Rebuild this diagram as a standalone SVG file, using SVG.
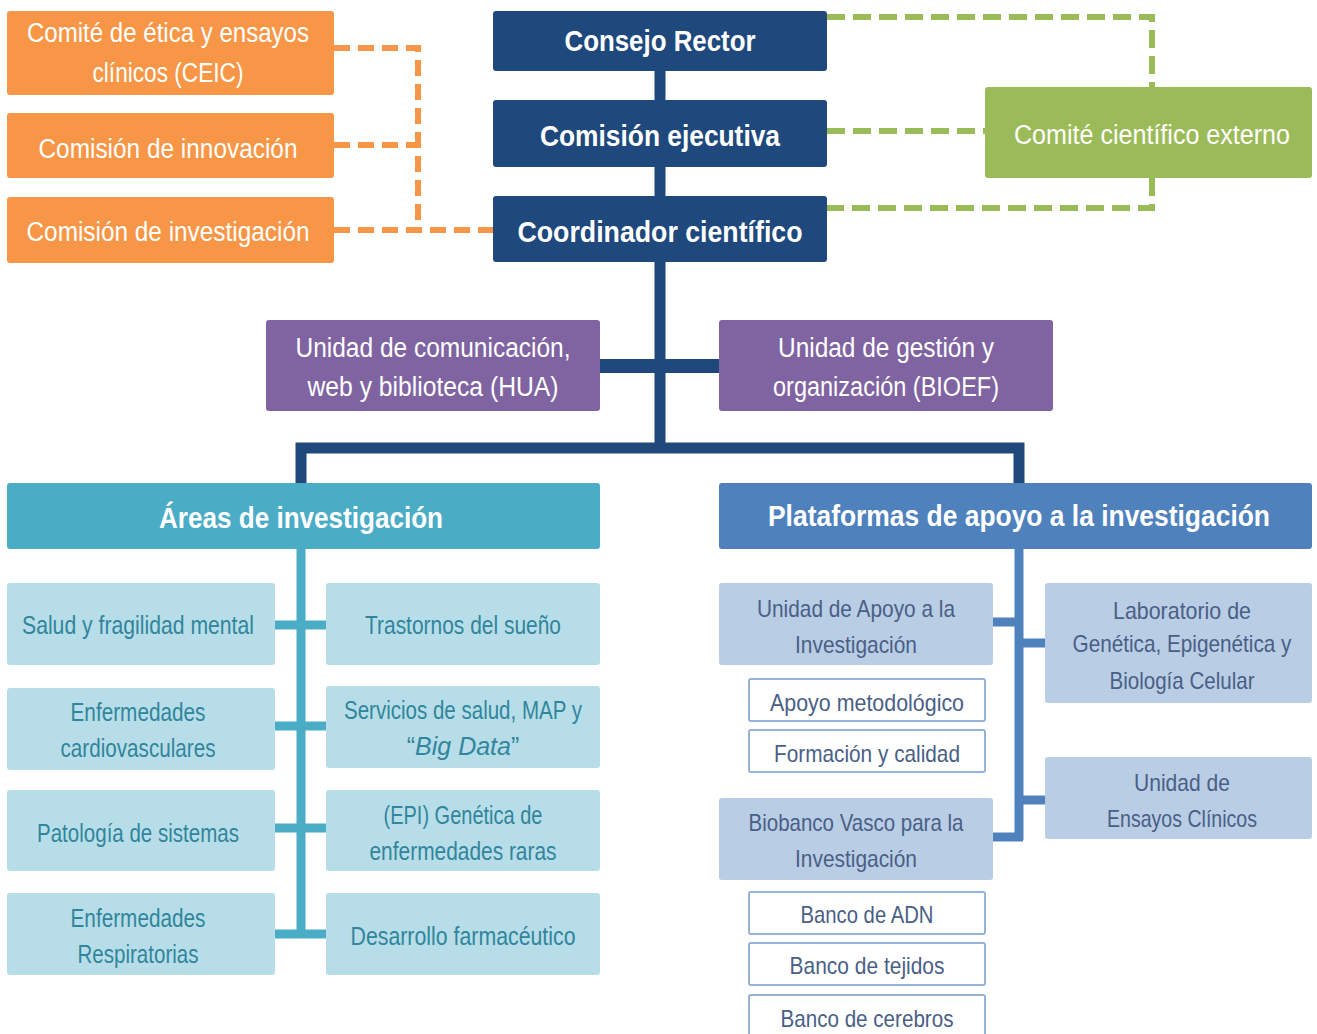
<svg xmlns="http://www.w3.org/2000/svg" width="1317" height="1034" viewBox="0 0 1317 1034">
<style>
text{font-family:"Liberation Sans",Arial,sans-serif;text-anchor:middle}
.t{font-size:30px;font-weight:bold;fill:#fff}
.w{font-size:27px;fill:#fff}
.a{font-size:25px;fill:#31859C}
.p{font-size:24px;fill:#4A5F86}
.or{fill:#F79646}
.db{fill:#1F497D}
.gr{fill:#9BBB59}
.pu{fill:#8064A2}
.ah{fill:#4BACC6}
.ph{fill:#4F81BD}
.ab{fill:#B7DEE8}
.pb{fill:#B9CDE5}
.wb{fill:#fff;stroke:#95B3D7;stroke-width:2}
.dor{fill:none;stroke:#F79646;stroke-width:6;stroke-dasharray:16 8}
.dgr{fill:none;stroke:#9BBB59;stroke-width:6;stroke-dasharray:18 8}
</style>
<rect width="1317" height="1034" fill="#fff"/>
<g id="connectors">
<path class="dor" d="M334,48 H418 V230 M334,145 H418 M334,230 H493"/>
<path class="dgr" d="M827,17 H1152 V87 M1152,178 V208 H827 M827,131 H985"/>
<path d="M660,71 V448" stroke="#1F497D" stroke-width="11" fill="none"/>
<path d="M600,366 H719" stroke="#1F497D" stroke-width="14" fill="none"/>
<path d="M301,485 V448 H1019 V485" stroke="#1F497D" stroke-width="11" fill="none"/>
<path d="M301,549 V935 M275,625 H326 M275,726 H326 M275,828 H326 M275,934 H326" stroke="#4BACC6" stroke-width="9" fill="none"/>
<path d="M1019,549 V840 M993,622 H1019 M993,837 H1023 M1019,643 H1045 M1019,800 H1045" stroke="#4F81BD" stroke-width="9" fill="none"/>
</g>
<g id="ceic"><rect class="or" x="7" y="11" width="327" height="84" rx="3"/><text class="w" x="168" y="42" textLength="282" lengthAdjust="spacingAndGlyphs">Comité de ética y ensayos</text><text class="w" x="168" y="82" textLength="151" lengthAdjust="spacingAndGlyphs">clínicos (CEIC)</text></g>
<g id="innovacion"><rect class="or" x="7" y="113" width="327" height="65" rx="3"/><text class="w" x="168" y="158" textLength="259" lengthAdjust="spacingAndGlyphs">Comisión de innovación</text></g>
<g id="investigacion"><rect class="or" x="7" y="197" width="327" height="66" rx="3"/><text class="w" x="168" y="241" textLength="283" lengthAdjust="spacingAndGlyphs">Comisión de investigación</text></g>
<g id="consejo"><rect class="db" x="493" y="11" width="334" height="60" rx="3"/><text class="t" x="660" y="51" textLength="191" lengthAdjust="spacingAndGlyphs">Consejo Rector</text></g>
<g id="ejecutiva"><rect class="db" x="493" y="100" width="334" height="67" rx="3"/><text class="t" x="660" y="146" textLength="240" lengthAdjust="spacingAndGlyphs">Comisión ejecutiva</text></g>
<g id="coordinador"><rect class="db" x="493" y="196" width="334" height="66" rx="3"/><text class="t" x="660" y="242" textLength="285" lengthAdjust="spacingAndGlyphs">Coordinador científico</text></g>
<g id="externo"><rect class="gr" x="985" y="87" width="327" height="91" rx="3"/><text class="w" x="1152" y="144" textLength="276" lengthAdjust="spacingAndGlyphs">Comité científico externo</text></g>
<g id="comunicacion"><rect class="pu" x="266" y="320" width="334" height="91" rx="3"/><text class="w" x="433" y="357" textLength="275" lengthAdjust="spacingAndGlyphs">Unidad de comunicación,</text><text class="w" x="433" y="396" textLength="251" lengthAdjust="spacingAndGlyphs">web y biblioteca (HUA)</text></g>
<g id="gestion"><rect class="pu" x="719" y="320" width="334" height="91" rx="3"/><text class="w" x="886" y="357" textLength="216" lengthAdjust="spacingAndGlyphs">Unidad de gestión y</text><text class="w" x="886" y="396" textLength="226" lengthAdjust="spacingAndGlyphs">organización (BIOEF)</text></g>
<g id="areas"><rect class="ah" x="7" y="483" width="593" height="66" rx="3"/><text class="t" x="301" y="528" textLength="284" lengthAdjust="spacingAndGlyphs">Áreas de investigación</text></g>
<g id="plataformas"><rect class="ph" x="719" y="483" width="593" height="66" rx="3"/><text class="t" x="1019" y="526" font-size="25" textLength="502" lengthAdjust="spacingAndGlyphs">Plataformas de apoyo a la investigación</text></g>
<g id="salud"><rect class="ab" x="7" y="583" width="268" height="82" rx="3"/><text class="a" x="138" y="634" textLength="232" lengthAdjust="spacingAndGlyphs">Salud y fragilidad mental</text></g>
<g id="sueno"><rect class="ab" x="326" y="583" width="274" height="82" rx="3"/><text class="a" x="463" y="634" textLength="196" lengthAdjust="spacingAndGlyphs">Trastornos del sueño</text></g>
<g id="cardio"><rect class="ab" x="7" y="688" width="268" height="82" rx="3"/><text class="a" x="138" y="721" textLength="135" lengthAdjust="spacingAndGlyphs">Enfermedades</text><text class="a" x="138" y="757" textLength="155" lengthAdjust="spacingAndGlyphs">cardiovasculares</text></g>
<g id="servicios"><rect class="ab" x="326" y="686" width="274" height="82" rx="3"/><text class="a" x="463" y="719" textLength="238" lengthAdjust="spacingAndGlyphs">Servicios de salud, MAP y</text><text class="a" x="463" y="755">“<tspan font-style="italic">Big Data</tspan>”</text></g>
<g id="patologia"><rect class="ab" x="7" y="790" width="268" height="81" rx="3"/><text class="a" x="138" y="842" textLength="202" lengthAdjust="spacingAndGlyphs">Patología de sistemas</text></g>
<g id="epi"><rect class="ab" x="326" y="790" width="274" height="81" rx="3"/><text class="a" x="463" y="824" textLength="159" lengthAdjust="spacingAndGlyphs">(EPI) Genética de</text><text class="a" x="463" y="860" textLength="187" lengthAdjust="spacingAndGlyphs">enfermedades raras</text></g>
<g id="respiratorias"><rect class="ab" x="7" y="893" width="268" height="82" rx="3"/><text class="a" x="138" y="927" textLength="135" lengthAdjust="spacingAndGlyphs">Enfermedades</text><text class="a" x="138" y="963" textLength="121" lengthAdjust="spacingAndGlyphs">Respiratorias</text></g>
<g id="farmaceutico"><rect class="ab" x="326" y="893" width="274" height="82" rx="3"/><text class="a" x="463" y="945" textLength="225" lengthAdjust="spacingAndGlyphs">Desarrollo farmacéutico</text></g>
<g id="uai"><rect class="pb" x="719" y="583" width="274" height="82" rx="3"/><text class="p" x="856" y="617" textLength="198" lengthAdjust="spacingAndGlyphs">Unidad de Apoyo a la</text><text class="p" x="856" y="653" textLength="122" lengthAdjust="spacingAndGlyphs">Investigación</text></g>
<g id="metodologico"><rect class="wb" x="749" y="679" width="236" height="42" rx="2"/><text class="p" x="867" y="711" textLength="194" lengthAdjust="spacingAndGlyphs">Apoyo metodológico</text></g>
<g id="formacion"><rect class="wb" x="749" y="730" width="236" height="42" rx="2"/><text class="p" x="867" y="762" textLength="186" lengthAdjust="spacingAndGlyphs">Formación y calidad</text></g>
<g id="biobanco"><rect class="pb" x="719" y="798" width="274" height="82" rx="3"/><text class="p" x="856" y="831" textLength="215" lengthAdjust="spacingAndGlyphs">Biobanco Vasco para la</text><text class="p" x="856" y="867" textLength="122" lengthAdjust="spacingAndGlyphs">Investigación</text></g>
<g id="adn"><rect class="wb" x="749" y="892" width="236" height="42" rx="2"/><text class="p" x="867" y="923" textLength="133" lengthAdjust="spacingAndGlyphs">Banco de ADN</text></g>
<g id="tejidos"><rect class="wb" x="749" y="943" width="236" height="42" rx="2"/><text class="p" x="867" y="974" textLength="155" lengthAdjust="spacingAndGlyphs">Banco de tejidos</text></g>
<g id="cerebros"><rect class="wb" x="749" y="995" width="236" height="42" rx="2"/><text class="p" x="867" y="1027" textLength="173" lengthAdjust="spacingAndGlyphs">Banco de cerebros</text></g>
<g id="laboratorio"><rect class="pb" x="1045" y="583" width="267" height="120" rx="3"/><text class="p" x="1182" y="619" textLength="138" lengthAdjust="spacingAndGlyphs">Laboratorio de</text><text class="p" x="1182" y="652" font-size="20" textLength="219" lengthAdjust="spacingAndGlyphs">Genética, Epigenética y</text><text class="p" x="1182" y="689" textLength="145" lengthAdjust="spacingAndGlyphs">Biología Celular</text></g>
<g id="ensayos"><rect class="pb" x="1045" y="757" width="267" height="82" rx="3"/><text class="p" x="1182" y="791" textLength="96" lengthAdjust="spacingAndGlyphs">Unidad de</text><text class="p" x="1182" y="827" textLength="150" lengthAdjust="spacingAndGlyphs">Ensayos Clínicos</text></g>
</svg>
